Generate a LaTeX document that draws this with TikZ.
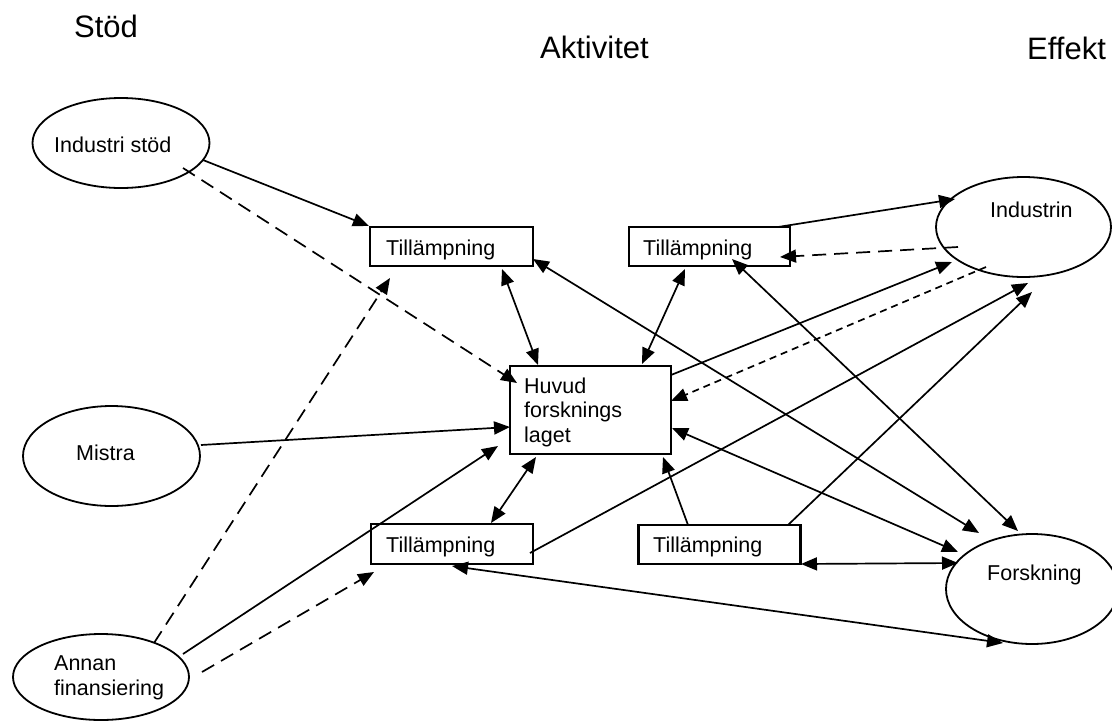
\documentclass[tikz,border=0pt]{standalone}
\usepackage{fontspec}
\setmainfont{Liberation Sans}
\usetikzlibrary{arrows.meta,shapes.geometric,calc}
\begin{document}
\begin{tikzpicture}[x=1pt,y=-1pt,
  oval/.style={draw,ellipse,line width=1.8pt,inner sep=0pt},
  box/.style={draw,rectangle,line width=2.2pt,inner sep=0pt},
  lbl/.style={anchor=base west,inner sep=0pt,font=\fontsize{21.5}{25}\selectfont},
  head/.style={anchor=base west,inner sep=0pt,font=\fontsize{31}{37}\selectfont},
  link/.style={line width=1.7pt,-{Triangle[length=16pt,width=13pt]}},
  both/.style={line width=1.7pt,{Triangle[length=16pt,width=13pt]}-{Triangle[length=16pt,width=13pt]}},
  longdash/.style={dash pattern=on 14pt off 8pt},
  shortdash/.style={dash pattern=on 7pt off 5pt},
]
\useasboundingbox (0,0) rectangle (1112,721);

% column headings
\node[head] (hstod) at (74,37) {Stöd};
\node[head] (hakt) at (540,58) {Aktivitet};
\node[head] (heff) at (1027,59) {Effekt};

% funding sources
\node[oval,minimum width=177pt,minimum height=90pt] (isd) at (121,143) {};
\node[lbl] (isdt) at (54,152) {Industri stöd};
\node[oval,minimum width=177pt,minimum height=100pt] (mis) at (111.5,456) {};
\node[lbl] (mist) at (76,460) {Mistra};
\node[oval,minimum width=176pt,minimum height=86pt] (ann) at (101,677) {};
\node[lbl] (annt1) at (54,670) {Annan};
\node[lbl] (annt2) at (54,695) {finansiering};

% effects
\node[oval,minimum width=175pt,minimum height=100pt] (ins) at (1023.5,227) {};
\node[lbl] (inst) at (990,217) {Industrin};
\node[oval,minimum width=172pt,minimum height=110pt] (fors) at (1032,589) {};
\node[lbl] (forst) at (987,580) {Forskning};

% activities
\node[box,minimum width=163pt,minimum height=39pt] (tl) at (451.5,246.5) {};
\node[lbl] (tlt) at (386,255) {Tillämpning};
\node[box,minimum width=161pt,minimum height=39pt] (tr) at (709.5,246.5) {};
\node[lbl] (trt) at (643,255) {Tillämpning};
\node[box,minimum width=161pt,minimum height=88pt] (hub) at (590.5,410) {};
\node[lbl] (hubt1) at (524,393) {Huvud};
\node[lbl] (hubt2) at (524,417.5) {forsknings};
\node[lbl] (hubt3) at (524,442) {laget};
\node[box,minimum width=162pt,minimum height=40pt] (bl) at (452,544) {};
\node[lbl] (blt) at (386,552) {Tillämpning};
\node[box,minimum width=162pt,minimum height=39pt] (br) at (719.5,544.5) {};
\node[lbl] (brt) at (653,552) {Tillämpning};

% support flows
\draw[link] ($(isd)+(82,17)$) -- (tl.north west);
\draw[link,longdash] ($(isd)+(62,25)$) -- ($(hub)+(-73.5,-27)$);
\draw[link] ($(mis)+(89.5,-11)$) -- ($(hub)+(-80.5,17)$);
\draw[link,longdash] ($(ann)+(53,-34)$) -- ($(tl)+(-61.5,31.5)$);
\draw[link] ($(ann)+(82,-23)$) -- ($(hub)+(-92.5,36)$);
\draw[link,longdash] ($(ann)+(101,-5)$) -- ($(bl)+(-78,28)$);

% links around the main research group
\draw[both] ($(tl)+(50.5,22.5)$) -- ($(hub)+(-52.5,-45)$);
\draw[both] ($(tr)+(-24.5,22.5)$) -- ($(hub)+(51.5,-46)$);
\draw[both] ($(bl)+(39,-21)$) -- ($(hub)+(-54.5,47)$);
\draw[link] ($(br)+(-31.5,-19.5)$) -- ($(hub)+(72.5,47)$);

% links to research
\draw[both] ($(tl)+(81.5,12.5)$) -- ($(fors)+(-53,-56)$);
\draw[both] ($(tr)+(22.5,12.5)$) -- ($(fors)+(-14,-58)$);
\draw[both] ($(hub)+(81.5,18)$) -- ($(fors)+(-74,-37)$);
\draw[both] ($(br)+(81.5,19.5)$) -- ($(fors)+(-74,-26)$);
\draw[both] ($(bl)+(0,22)$) -- ($(fors)+(-29,54)$);

% links to industry
\draw[link] ($(tr)+(68.5,-19.5)$) -- ($(ins)+(-68.5,-28)$);
\draw[link,longdash] ($(ins)+(-65.5,20)$) -- ($(tr)+(70.5,10.5)$);
\draw[link] ($(hub)+(80.5,-35)$) -- ($(ins)+(-71.5,35)$);
\draw[link,shortdash] ($(ins)+(-37.5,40)$) -- ($(hub)+(80.5,-9)$);
\draw[link] ($(bl)+(78,9)$) -- ($(ins)+(4.5,56)$);
\draw[link] ($(br)+(68.5,-19.5)$) -- ($(ins)+(8.5,65)$);
\end{tikzpicture}
\end{document}
